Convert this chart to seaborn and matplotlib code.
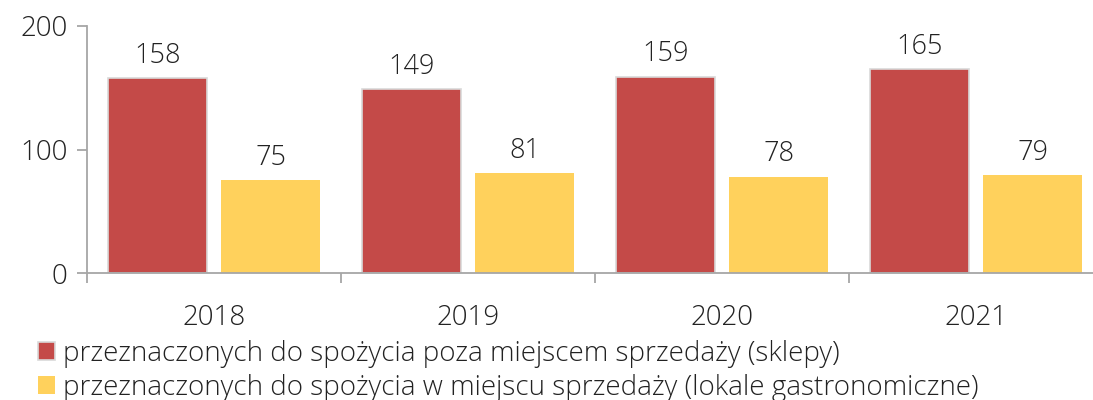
import matplotlib
matplotlib.use("Agg")
import matplotlib.pyplot as plt
import seaborn as sns
import pandas as pd
from matplotlib.patches import Patch

years = ["2018", "2019", "2020", "2021"]
sklepy = [158, 149, 159, 165]
lokale = [75, 81, 78, 79]
series_names = [
    "przeznaczonych do spożycia poza miejscem sprzedaży (sklepy)",
    "przeznaczonych do spożycia w miejscu sprzedaży (lokale gastronomiczne)",
]
colors = ["#C44A48", "#FFD15C"]

df = pd.DataFrame({
    "rok": years * 2,
    "wartosc": sklepy + lokale,
    "seria": [series_names[0]] * 4 + [series_names[1]] * 4,
})

sns.set_theme(style="white")
plt.rcParams["font.family"] = ["Open Sans", "DejaVu Sans"]
plt.rcParams["font.weight"] = "light"

fig = plt.figure(figsize=(10.93, 4.0), dpi=100)
ax = fig.add_axes([87 / 1093, 127 / 400, (1103 - 87) / 1093, 247 / 400])

sns.barplot(data=df, x="rok", y="wartosc", hue="seria", palette=colors,
            width=0.89, gap=0.124, ax=ax, legend=False, saturation=1)

for i, cont in enumerate(ax.containers):
    for bar in cont:
        if i == 0:
            bar.set_edgecolor("#d9d9d9")
            bar.set_linewidth(1.2)
        else:
            bar.set_edgecolor("none")
    ax.bar_label(cont, padding=6, fontsize=19.5, color="#222222", fontweight="light")

ax.set_ylim(0, 200)
ax.set_xlim(-0.5, 3.5)
ax.set_yticks([0, 100, 200])
ax.set_xlabel("")
ax.set_ylabel("")
for s in ["top", "right"]:
    ax.spines[s].set_visible(False)
for s in ["left", "bottom"]:
    ax.spines[s].set_color("#a6a6a6")
    ax.spines[s].set_linewidth(1.3)
ax.spines["left"].set_bounds(0, 200)

ax.tick_params(axis="y", length=7.2, width=1.3, color="#a6a6a6", labelsize=20,
               labelcolor="#222222", pad=7, left=True)
ax.set_xticks([-0.5, 0.5, 1.5, 2.5, 3.5], minor=True)
ax.tick_params(axis="x", which="minor", length=7.5, width=1.3, color="#a6a6a6", bottom=True)
ax.tick_params(axis="x", which="major", length=0, labelsize=20, labelcolor="#222222", pad=22)

handles = [Patch(facecolor=colors[0], edgecolor="#d9d9d9", linewidth=1.2),
           Patch(facecolor=colors[1], edgecolor="none")]
fig.legend(handles, series_names, loc="upper left", bbox_to_anchor=(38 / 1093, 1 - 340 / 400),
           frameon=False, fontsize=20, handlelength=0.6, handleheight=0.6,
           handletextpad=0.3, labelspacing=0.2, borderaxespad=0, borderpad=0,
           labelcolor="#222222")

fig.savefig("out.png", dpi=100)
